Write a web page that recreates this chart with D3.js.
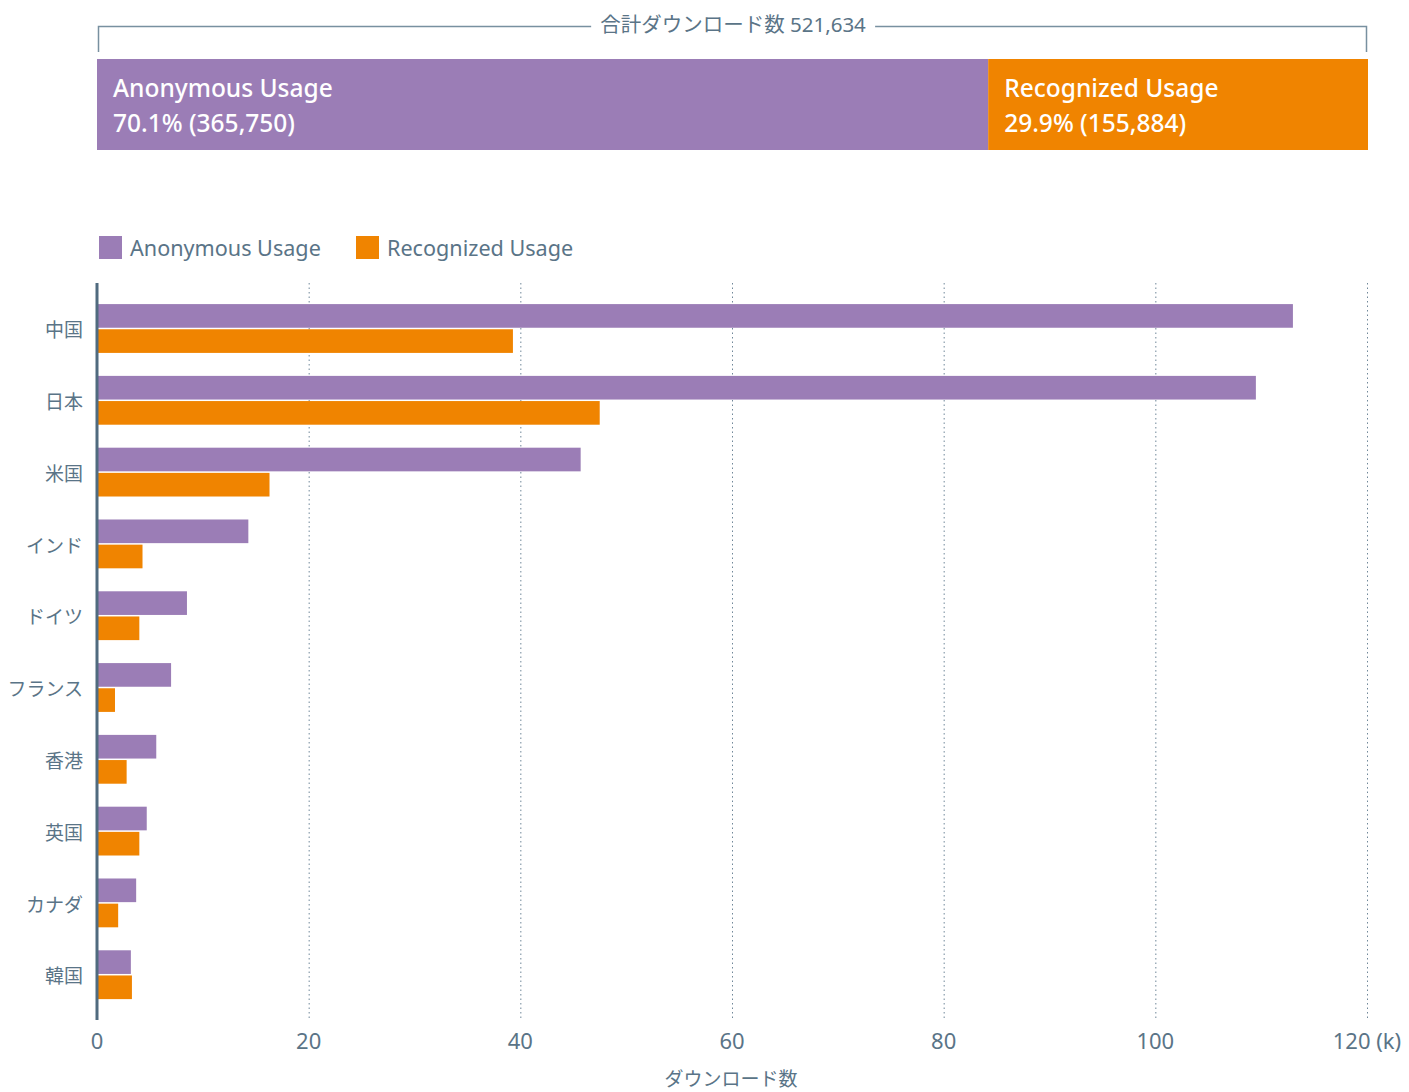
<!DOCTYPE html>
<html>
<head>
	<meta charset="utf-8">
	<style>
		body {
			margin: 0;
			background: #fff;
			font-family: "Noto Sans", "Noto Sans CJK JP", sans-serif;
		}
		.grid line {
			stroke: #6f8799;
			stroke-dasharray: 1.5 3;
		}
		.tick-label, .country, .legend text, .x-title {
			fill: #5a7487;
		}
		.share text {
			fill: #fff;
			font-weight: 500;
		}
	</style>
	<script src="https://d3js.org/d3.v7.min.js"></script>
</head>
<body>
	<script>
		// data (thousands of downloads)
		var countries = ['中国', '日本', '米国', 'インド', 'ドイツ', 'フランス', '香港', '英国', 'カナダ', '韓国'];
		var anonymous = [113.0, 109.5, 45.7, 14.3, 8.5, 7.0, 5.6, 4.7, 3.7, 3.2];
		var recognized = [39.3, 47.5, 16.3, 4.3, 4.0, 1.7, 2.8, 4.0, 2.0, 3.3];
		var series = ['Anonymous Usage', 'Recognized Usage'];
		var series_colors = ['#9b7db6', '#f08400'];
		var totals = [365750, 155884];
		var x_ticks = [0, 20, 40, 60, 80, 100, 120];

		var width = 1409, height = 1092;
		var left = 97, right = 1367;
		var plot_top = 283, plot_bottom = 1020;

		var svg = d3.select('body').append('svg')
			.attr('width', width)
			.attr('height', height);

		// ---- top share bar ----
		var grand_total = d3.sum(totals);
		var share = totals.map((v, i) => ({name: series[i], value: v, pct: v / grand_total}));
		var scale_share = d3.scaleLinear()
			.domain([0, grand_total])
			.range([left, right + 1]);

		var bracket = svg.append('g').attr('class', 'bracket');
		bracket.append('path')
			.attr('d', 'M' + (left + 1.5) + ',52 V26.5 H' + (right - 0.5) + ' V52')
			.attr('fill', 'none')
			.attr('stroke', '#7890a0')
			.attr('stroke-width', 1.5);
		var title = bracket.append('text')
			.attr('x', 733)
			.attr('y', 32)
			.attr('text-anchor', 'middle')
			.attr('font-size', 20.5)
			.attr('fill', '#5a7487')
			.text('合計ダウンロード数 ' + d3.format(',')(grand_total));
		var bb = title.node().getBBox();
		bracket.insert('rect', 'text')
			.attr('x', bb.x - 9)
			.attr('y', 20)
			.attr('width', bb.width + 18)
			.attr('height', 14)
			.attr('fill', '#fff');

		var cum = 0;
		share.forEach(d => { d.x0 = cum; cum += d.value; d.x1 = cum; });

		var seg = svg.append('g').attr('class', 'share')
			.selectAll('g')
			.data(share)
			.join('g');
		seg.append('rect')
			.attr('x', d => scale_share(d.x0))
			.attr('y', 59)
			.attr('width', d => scale_share(d.x1) - scale_share(d.x0))
			.attr('height', 91)
			.attr('fill', (d, i) => series_colors[i]);
		seg.append('text')
			.attr('x', d => scale_share(d.x0) + 16)
			.attr('y', 97)
			.attr('font-size', 24.5)
			.text(d => d.name);
		seg.append('text')
			.attr('x', d => scale_share(d.x0) + 16)
			.attr('y', 132)
			.attr('font-size', 24.5)
			.text(d => d3.format('.1f')(d.pct * 100) + '% (' + d3.format(',')(d.value) + ')');

		// ---- legend ----
		var legend = svg.append('g').attr('class', 'legend');
		var legend_x = [99, 356];
		series.forEach((s, i) => {
			legend.append('rect')
				.attr('x', legend_x[i])
				.attr('y', 236)
				.attr('width', 23)
				.attr('height', 23)
				.attr('fill', series_colors[i]);
			legend.append('text')
				.attr('x', legend_x[i] + 31)
				.attr('y', 256)
				.attr('font-size', 21.6)
				.text(s);
		});

		// ---- bar chart ----
		var scale_x = d3.scaleLinear()
			.domain([0, 120])
			.range([left, right]);

		var scale_y = d3.scaleBand()
			.domain(countries)
			.range([292.6, 1010.6])
			.paddingInner(0.32)
			.paddingOuter(0.16);

		var scale_sub = d3.scaleBand()
			.domain(series)
			.range([0, scale_y.bandwidth()])
			.paddingInner(0.06);

		// gridlines
		svg.append('g')
			.attr('class', 'grid')
			.selectAll('line')
			.data(x_ticks.slice(1))
			.join('line')
			.attr('x1', d => scale_x(d) + 0.5)
			.attr('x2', d => scale_x(d) + 0.5)
			.attr('y1', plot_top)
			.attr('y2', plot_bottom);

		var rows = countries.map((c, i) => ({country: c, values: [anonymous[i], recognized[i]]}));

		var group = svg.append('g')
			.selectAll('g')
			.data(rows)
			.join('g')
			.attr('transform', d => 'translate(0,' + scale_y(d.country) + ')');

		group.selectAll('rect')
			.data(d => d.values.map((v, i) => ({s: series[i], v: v, i: i})))
			.join('rect')
			.attr('x', left + 1)
			.attr('y', d => scale_sub(d.s))
			.attr('width', d => scale_x(d.v) - left - 1)
			.attr('height', scale_sub.bandwidth())
			.attr('fill', d => series_colors[d.i]);

		// country labels
		svg.append('g')
			.selectAll('text')
			.data(countries)
			.join('text')
			.attr('class', 'country')
			.attr('x', 83)
			.attr('y', d => scale_y(d) + scale_y.bandwidth() / 2 + 2)
			.attr('dy', '0.35em')
			.attr('text-anchor', 'end')
			.attr('font-size', 19)
			.text(d => d);

		// y axis line
		svg.append('line')
			.attr('x1', left)
			.attr('x2', left)
			.attr('y1', plot_top)
			.attr('y2', plot_bottom)
			.attr('stroke', '#506b7f')
			.attr('stroke-width', 3);

		// x tick labels
		svg.append('g')
			.selectAll('text')
			.data(x_ticks)
			.join('text')
			.attr('class', 'tick-label')
			.attr('x', d => scale_x(d))
			.attr('y', 1049)
			.attr('text-anchor', 'middle')
			.attr('font-size', 22)
			.text(d => d === 120 ? d + ' (k)' : d);

		svg.append('text')
			.attr('class', 'x-title')
			.attr('x', 731)
			.attr('y', 1086)
			.attr('text-anchor', 'middle')
			.attr('font-size', 19)
			.text('ダウンロード数');
	</script>
</body>
</html>
